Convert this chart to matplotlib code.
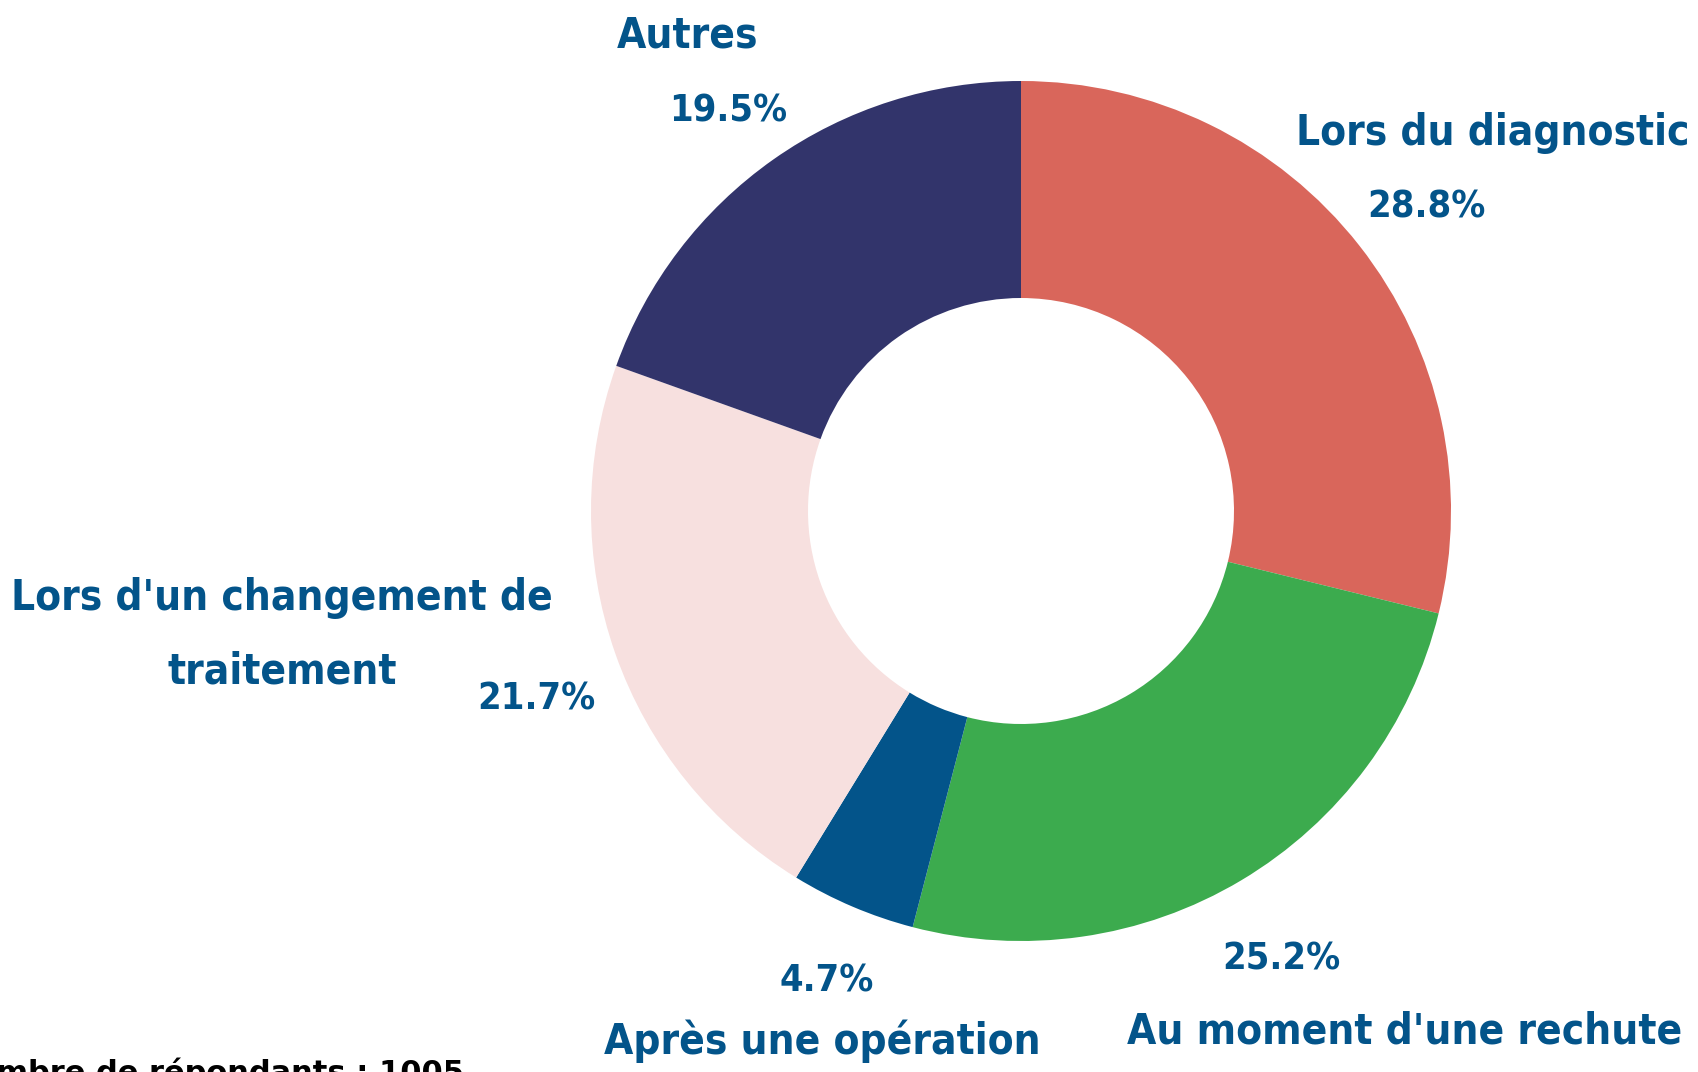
import matplotlib
matplotlib.use("Agg")
import matplotlib.pyplot as plt

categories = ["Lors du diagnostic", "Au moment d'une rechute", "Après une opération",
              "Lors d'un changement de\ntraitement", "Autres"]
values = [28.8, 25.2, 4.7, 21.7, 19.5]
pct_labels = ["28.8%", "25.2%", "4.7%", "21.7%", "19.5%"]
colors = ["#D9665B", "#3CAB4E", "#03548A", "#F7E0DF", "#32346B"]
footer = "Nombre de répondants : 1005"

W, H = 1699, 1072
fig = plt.figure(figsize=(W / 100, H / 100), dpi=100)
ax = fig.add_axes([0, 0, 1, 1])

cx, cy, R = 1021, H - 511, 430
ax.pie(values, colors=colors, startangle=90, counterclock=False,
       center=(cx, cy), radius=R, frame=True,
       wedgeprops=dict(width=217, linewidth=0))
ax.set_xlim(0, W)
ax.set_ylim(0, H)
ax.set_aspect("equal", adjustable="box")
ax.axis("off")

fam = ["DejaVu Sans"]
tc = "#03548A"
# (label x, label y, pct x, pct y) in image pixel coordinates
pos = [
    (1493, 133, 1426, 208),
    (1405, 1032, 1281, 959),
    (822, 1041, 827, 982),
    (282, 635, 536, 699),
    (688, 36, 728, 111),
]
line_gap = 74  # pixels between lines of a wrapped label
renderer = fig.canvas.get_renderer()

def fit_size(s, target_px, base=30):
    t = fig.text(0, 0, s, fontsize=base, fontweight="bold", family=fam,
                 fontstretch="condensed")
    w = t.get_window_extent(renderer).width
    t.remove()
    return base * target_px / w

lab_fs = fit_size("Lors du diagnostic", 393)
pct_fs = fit_size("28.8%", 118)

for cat, pl, (lx, ly, px, py) in zip(categories, pct_labels, pos):
    lines = cat.split("\n")
    n = len(lines)
    for i, line in enumerate(lines):
        yy = ly + (i - (n - 1) / 2) * line_gap
        ax.text(lx, H - yy, line, ha="center", va="center", color=tc,
                fontsize=lab_fs, fontweight="bold", family=fam,
                fontstretch="condensed")
    ax.text(px, H - py, pl, ha="center", va="center", color=tc,
            fontsize=pct_fs, fontweight="bold", family=fam, fontstretch="condensed")

ax.text(464, H - 1082, footer, ha="right", va="baseline", color="black",
        fontsize=22, fontweight="heavy", family=["DejaVu Sans"])

fig.savefig("out.png", dpi=100)
